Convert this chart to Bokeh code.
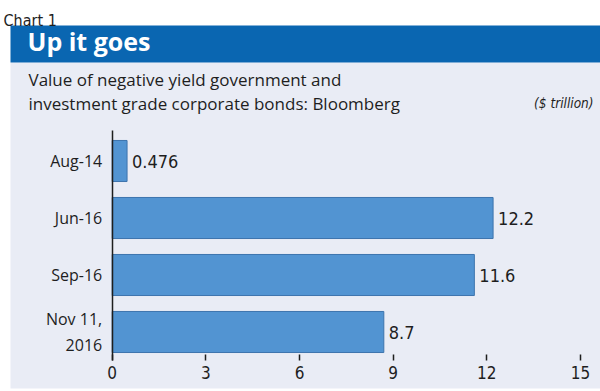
from bokeh.plotting import figure
from bokeh.models import ColumnDataSource, FixedTicker, Range1d
from bokeh.core.properties import value
from bokeh.embed import file_html
from bokeh.resources import INLINE

# ---- data ----
categories = ["Aug-14", "Jun-16", "Sep-16", "Nov 11,\n2016"]
values = [0.476, 12.2, 11.6, 8.7]
value_labels = ["0.476", "12.2", "11.6", "8.7"]
x_ticks = [0, 3, 6, 9, 12, 15]

title_text = "Up it goes"
chart_no = "Chart 1"
subtitle1 = "Value of negative yield government and"
subtitle2 = "investment grade corporate bonds: Bloomberg"
unit_text = "($ trillion)"

# ---- style / layout ----
W, H = 600, 391
PANEL = "#e9ecf5"
BLUE = "#0a66b1"
BAR = "#5294d2"
BAR_LINE = "#3d74ad"
TXT = "#1e1e1e"
COND = "DejaVu Sans Condensed"
SANS = "Open Sans"

X0_PX, X_UNIT = 111.7, 31.22      # pixel of value 0, pixels per unit
Y0_PX, Y_UNIT = 160.5, 57.0       # pixel centre of first category, pixels per band

def kx(px):
    return (px - X0_PX) / X_UNIT

def ky(py):
    return (py - Y0_PX) / Y_UNIT

pos = list(range(len(categories)))
src = ColumnDataSource(dict(pos=pos, val=values, lab=value_labels))

p = figure(width=W, height=H, output_backend="svg", toolbar_location=None,
           x_range=Range1d(kx(0), kx(W)), y_range=Range1d(ky(H), ky(0)),
           min_border=0, min_border_left=0, min_border_right=0,
           min_border_top=0, min_border_bottom=0)
p.background_fill_color = "white"
p.border_fill_color = "white"
p.outline_line_color = None
p.grid.visible = False

# page panels
p.quad(left=[kx(10)], right=[kx(W)], top=[ky(62)], bottom=[ky(388)], fill_color=PANEL, line_color=None)
p.quad(left=[kx(10)], right=[kx(W)], top=[ky(25)], bottom=[ky(62)], fill_color=BLUE, line_color=None)

def htext(text, x, y, font, size, color=TXT, style="normal", align="left"):
    p.text(x=[kx(x)], y=[ky(y)], text=[text], text_font=value(font), text_font_size=size,
           text_color=color, text_font_style=style, text_align=align, text_baseline="alphabetic")

htext(chart_no, 3, 20, COND, "16px")
htext(title_text, 27, 40, SANS, "25px", color="white", style="bold")
htext(subtitle1, 28, 79, SANS, "17px")
htext(subtitle2, 28, 103, SANS, "17px")
htext(unit_text, 593, 102, COND, "13.5px", style="italic", align="right")

# bars
p.hbar(y="pos", right="val", left=0, height=0.72, source=src,
       fill_color=BAR, line_color=BAR_LINE, line_width=1)
p.text(x="val", y="pos", text="lab", source=src, x_offset=5,
       text_font=value(COND), text_font_size="18px", text_color=TXT,
       text_align="left", text_baseline="middle")

# x axis (drawn at the bottom edge of the last band)
xa = p.xaxis[0]
xa.fixed_location = len(categories) - 0.5
xa.ticker = FixedTicker(ticks=x_ticks)
xa.axis_line_color = None
xa.major_tick_in = 6
xa.major_tick_out = 0
xa.minor_tick_line_color = None
xa.major_tick_line_color = TXT
xa.major_tick_line_width = 1.5
xa.major_label_standoff = 5
xa.major_label_text_font = COND
xa.major_label_text_font_size = "17px"
xa.major_label_text_color = TXT

# y axis (category axis at value 0)
ya = p.yaxis[0]
ya.fixed_location = 0
ya.bounds = (ky(130), len(categories) - 0.5)
ya.ticker = FixedTicker(ticks=pos)
ya.major_label_overrides = {i: c for i, c in zip(pos, categories)}
ya.axis_line_color = TXT
ya.axis_line_width = 1.5
ya.major_tick_line_color = None
ya.major_tick_in = 0
ya.major_tick_out = 0
ya.minor_tick_line_color = None
ya.major_label_standoff = 10
ya.major_label_text_font = SANS
ya.major_label_text_font_size = "16px"
ya.major_label_text_color = TXT

open("out.html", "w").write(file_html(p, INLINE))
